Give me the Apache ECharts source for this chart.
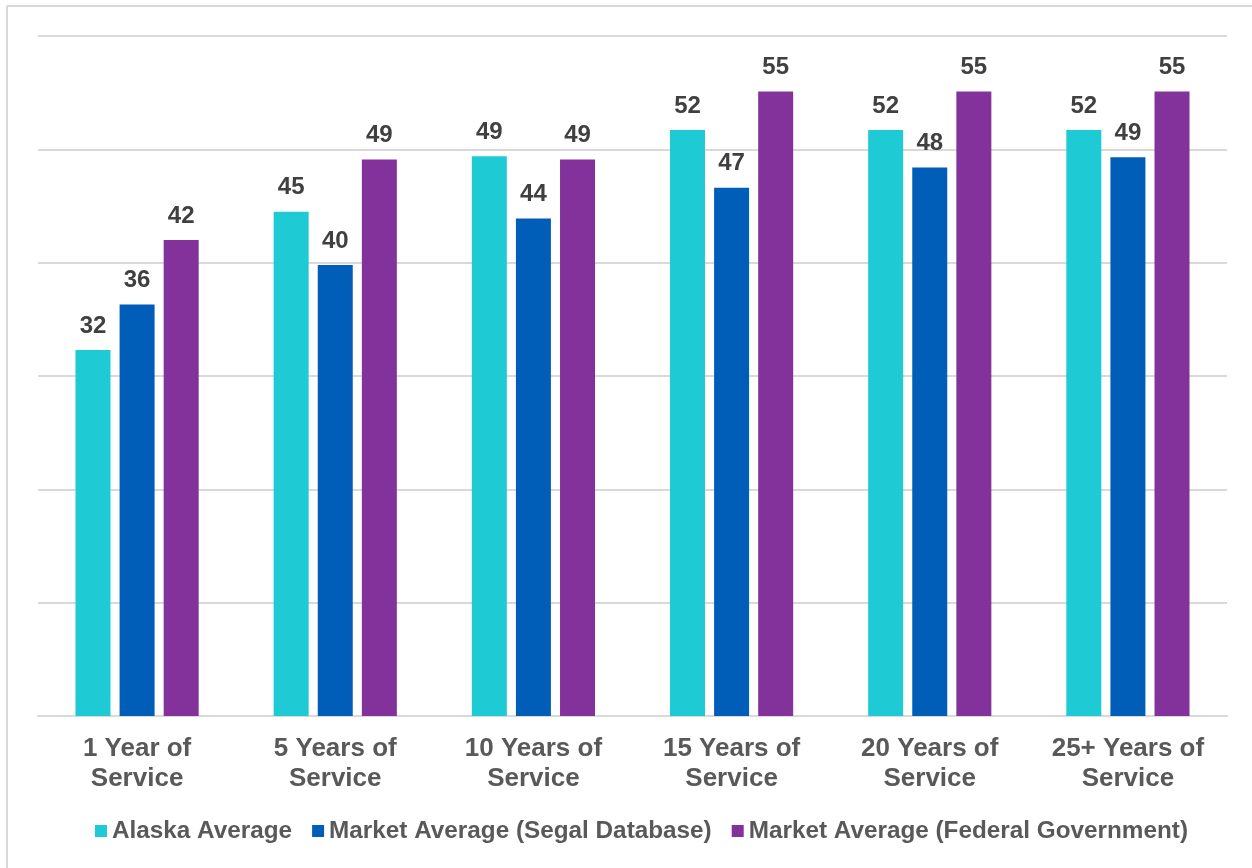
<!DOCTYPE html>
<html>
<head>
<meta charset="utf-8">
<script src="https://cdn.jsdelivr.net/npm/echarts@6/dist/echarts.min.js"></script>
<style>
html, body { margin: 0; padding: 0; background: #fff; }
#main { width: 1252px; height: 868px; }
</style>
</head>
<body>
<div id="main"></div>
<script>
// categories and values
var categories = ['1 Year of\nService', '5 Years of\nService', '10 Years of\nService',
	'15 Years of\nService', '20 Years of\nService', '25+ Years of\nService'];
var seriesNames = ['Alaska Average', 'Market Average (Segal Database)', 'Market Average (Federal Government)'];
var alaskaAvg = [32.3, 44.5, 49.4, 51.7, 51.7, 51.7];
var segalAvg = [36.3, 39.8, 43.9, 46.6, 48.4, 49.3];
var federalAvg = [42.0, 49.1, 49.1, 55.1, 55.1, 55.1];
var colors = ['#1ECAD3', '#005EB8', '#84329B'];

function makeSeries(name, data) {
	return {
		name: name,
		type: 'bar',
		data: data,
		barWidth: 35,
		barGap: '26%',
		label: {
			show: true,
			position: 'top',
			distance: 12,
			color: '#404040',
			fontSize: 24,
			fontWeight: 'bold',
			fontFamily: 'Liberation Sans, Arial, sans-serif',
			formatter: function (p) { return Math.round(p.value); }
		}
	};
}

var myChart = echarts.init(document.getElementById('main'));
var option = {
	backgroundColor: '#ffffff',
	color: colors,
	animation: false,
	textStyle: { fontFamily: 'Liberation Sans, Arial, sans-serif' },
	graphic: [
		{ type: 'line', shape: { x1: 7, y1: 6, x2: 1252, y2: 6 }, style: { stroke: '#D9D9D9', lineWidth: 2 } },
		{ type: 'line', shape: { x1: 7, y1: 6, x2: 7, y2: 868 }, style: { stroke: '#D9D9D9', lineWidth: 2 } }
	],
	grid: { left: 38, right: 25, top: 36, bottom: 152, containLabel: false },
	legend: {
		bottom: 20,
		left: 90,
		itemWidth: 12,
		itemHeight: 12,
		itemGap: 20,
		icon: 'rect',
		textStyle: {
			color: '#595959',
			fontSize: 24.3,
			fontWeight: 'bold',
			padding: [0, 0, 0, 0]
		},
		data: seriesNames
	},
	xAxis: {
		type: 'category',
		data: categories,
		axisLine: { lineStyle: { color: '#D9D9D9', width: 2 } },
		axisTick: { show: false },
		axisLabel: {
			color: '#595959',
			fontSize: 26,
			fontWeight: 'bold',
			lineHeight: 30,
			margin: 18,
			interval: 0
		}
	},
	yAxis: {
		type: 'value',
		min: 0,
		max: 60,
		interval: 10,
		axisLabel: { show: false },
		axisLine: { show: false },
		axisTick: { show: false },
		splitLine: { lineStyle: { color: '#D9D9D9', width: 2 } }
	},
	series: [
		makeSeries(seriesNames[0], alaskaAvg),
		makeSeries(seriesNames[1], segalAvg),
		makeSeries(seriesNames[2], federalAvg)
	]
};
myChart.setOption(option);
</script>
</body>
</html>
